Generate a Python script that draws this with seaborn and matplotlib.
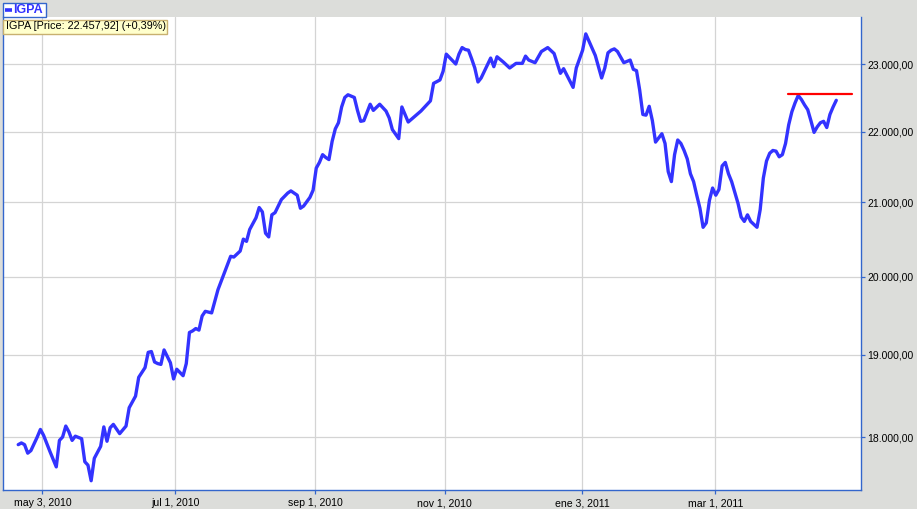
import matplotlib
matplotlib.use("Agg")
import matplotlib.pyplot as plt
import pandas as pd
import seaborn as sns
from matplotlib.patches import Rectangle
from matplotlib.lines import Line2D
from matplotlib.ticker import FixedLocator, FuncFormatter, NullLocator

# ---------------- data (trading-session index, IGPA close) ----------------
session = [0, 1, 2, 3, 4, 6, 7, 8, 10, 12, 13, 14, 15, 16, 17, 18, 20, 21, 22, 23,
           24, 26, 27, 28, 29, 30, 32, 34, 35, 37, 38, 40, 41, 42, 43, 44, 45, 46, 48, 49,
           50, 52, 53, 54, 55, 56, 57, 58, 59, 61, 63, 65, 67, 68, 70, 71, 72, 73, 75, 76,
           77, 78, 79, 80, 81, 83, 85, 86, 88, 89, 90, 92, 93, 94, 95, 96, 97, 98, 99, 100,
           101, 102, 103, 104, 106, 107, 108, 109, 111, 112, 114, 116, 117, 118, 120, 121, 123, 125, 127, 130,
           131, 133, 134, 135, 138, 139, 140, 141, 142, 143, 144, 145, 146, 148, 149, 150, 151, 153, 155, 157,
           159, 160, 161, 163, 165, 167, 169, 171, 172, 175, 176, 178, 179, 181, 182, 184, 185, 186, 187, 188,
           189, 191, 193, 194, 195, 196, 197, 198, 199, 200, 201, 203, 204, 205, 206, 207, 208, 209, 210, 211,
           212, 213, 214, 215, 216, 217, 218, 219, 220, 221, 222, 223, 224, 225, 227, 228, 229, 230, 231, 233,
           234, 235, 236, 237, 238, 239, 240, 241, 242, 243, 244, 245, 246, 247, 248, 249, 250, 251, 252, 253,
           254, 255, 256, 257, 258]
igpa = [17910, 17930, 17910, 17810, 17840, 18000, 18090, 18020, 17830, 17650, 17960, 18000, 18130, 18060, 17960, 18010, 17980, 17710, 17670, 17490,
        17750, 17890, 18120, 17950, 18110, 18150, 18040, 18130, 18350, 18490, 18720, 18840, 19030, 19040, 18910, 18890, 18880, 19060, 18900, 18700,
        18820, 18740, 18890, 19280, 19300, 19330, 19310, 19490, 19550, 19530, 19830, 20050, 20270, 20260, 20340, 20500, 20470, 20630, 20790, 20930,
        20870, 20580, 20530, 20830, 20860, 21040, 21130, 21160, 21100, 20920, 20950, 21070, 21170, 21480, 21560, 21670, 21630, 21600, 21860, 22040,
        22130, 22360, 22500, 22540, 22500, 22310, 22150, 22160, 22400, 22310, 22400, 22300, 22200, 22030, 21900, 22360, 22140, 22220, 22300, 22450,
        22710, 22760, 22890, 23150, 23000, 23150, 23250, 23220, 23210, 23080, 22940, 22730, 22790, 22990, 23090, 22960, 23110, 23030, 22940, 23010,
        23010, 23120, 23060, 23020, 23190, 23250, 23160, 22860, 22930, 22650, 22940, 23210, 23460, 23240, 23130, 22790, 22940, 23170, 23210, 23230,
        23190, 23020, 23060, 22920, 22900, 22610, 22250, 22240, 22370, 22160, 21850, 21970, 21830, 21430, 21290, 21670, 21880, 21830, 21730, 21610,
        21400, 21290, 21100, 20920, 20660, 20720, 21030, 21200, 21100, 21180, 21510, 21560, 21400, 21290, 20990, 20800, 20740, 20830, 20740, 20660,
        20900, 21340, 21580, 21690, 21730, 21720, 21640, 21670, 21830, 22100, 22290, 22420, 22530, 22470, 22390, 22320, 22160, 21990, 22070, 22130,
        22150, 22060, 22250, 22360, 22457.92]

level_value = 22556
level_sessions = [242.8, 263.0]

x_tick_sessions = [7.6, 49.5, 93.7, 134.5, 177.9, 219.9]
x_tick_labels = ["may 3, 2010", "jul 1, 2010", "sep 1, 2010", "nov 1, 2010",
                 "ene 3, 2011", "mar 1, 2011"]
y_ticks = [18000, 19000, 20000, 21000, 22000, 23000]

series_name = "IGPA"
last_price = "22.457,92"
last_change = "+0,39%"

# ---------------- style ----------------
sns.set_theme(style="white")
plt.rcParams["font.family"] = ["Liberation Sans", "DejaVu Sans"]

W, H = 917, 509
BG = "#DCDDDA"
AXIS_BLUE = "#3366CC"
LINE_BLUE = "#3333FF"
GRID = "#D4D4D4"

fig = plt.figure(figsize=(W / 100, H / 100), dpi=100, facecolor=BG)
ax = fig.add_axes([3 / W, 1 - 490 / H, (861 - 3) / W, (490 - 17) / H])
ax.set_facecolor("white")

df = pd.DataFrame({"session": session, "igpa": igpa})
sns.lineplot(data=df, x="session", y="igpa", ax=ax, color=LINE_BLUE,
             linewidth=2.4, zorder=3)
sns.lineplot(x=level_sessions, y=[level_value, level_value], ax=ax,
             color="#FF0000", linewidth=1.6, zorder=4)

ax.set_yscale("log")
ax.set_xlim(-4.8, 265.8)
ax.set_ylim(17384, 23722)


def euro_fmt(v, pos=None):
    s = f"{v:,.2f}"
    return s.replace(",", "X").replace(".", ",").replace("X", ".")


ax.yaxis.set_major_locator(FixedLocator(y_ticks))
ax.yaxis.set_minor_locator(NullLocator())
ax.yaxis.set_major_formatter(FuncFormatter(euro_fmt))
ax.yaxis.tick_right()
ax.xaxis.set_major_locator(FixedLocator(x_tick_sessions))
ax.xaxis.set_minor_locator(NullLocator())
ax.set_xticklabels(x_tick_labels)

ax.tick_params(axis="y", which="major", direction="out", length=3, width=0.9,
               color=AXIS_BLUE, labelsize=7.5, pad=1.8, labelcolor="black",
               right=True, left=False)
ax.tick_params(axis="x", which="major", direction="out", length=3, width=0.9,
               color=AXIS_BLUE, labelsize=7.6, pad=3, labelcolor="black",
               bottom=True)

ax.grid(True, which="major", color=GRID, linewidth=0.9)
ax.set_axisbelow(True)
ax.set_xlabel("")
ax.set_ylabel("")

for side in ("left", "right", "bottom"):
    ax.spines[side].set_color(AXIS_BLUE)
    ax.spines[side].set_linewidth(1.0)
ax.spines["top"].set_visible(False)


def fx(x):
    return x / W


def fy(y):
    return 1 - y / H


# series legend box (top-left)
fig.add_artist(Rectangle((fx(2.5), fy(16.5)), (45.5 - 2.5) / W, 14 / H,
                         transform=fig.transFigure, facecolor="white",
                         edgecolor=AXIS_BLUE, linewidth=1.0, zorder=5))
fig.add_artist(Line2D([fx(5), fx(12)], [fy(9.7), fy(9.7)],
                      transform=fig.transFigure, color=LINE_BLUE,
                      linewidth=2.6, solid_capstyle="butt", zorder=6))
fig.text(fx(13.5), fy(9.8), series_name, ha="left", va="center", fontsize=9,
         fontweight="bold", color=LINE_BLUE, zorder=6)

# price tooltip box
fig.add_artist(Rectangle((fx(3), fy(33.5)), 163.5 / W, 14 / H,
                         transform=fig.transFigure, facecolor="#FFFFCC",
                         edgecolor="#C8B070", linewidth=1.0, zorder=5))
fig.text(fx(6.5), fy(26.3), f"{series_name} [Price: {last_price}] ({last_change})",
         ha="left", va="center", fontsize=7.8, color="black", zorder=6)

fig.savefig("out.png", dpi=100, facecolor=BG)
